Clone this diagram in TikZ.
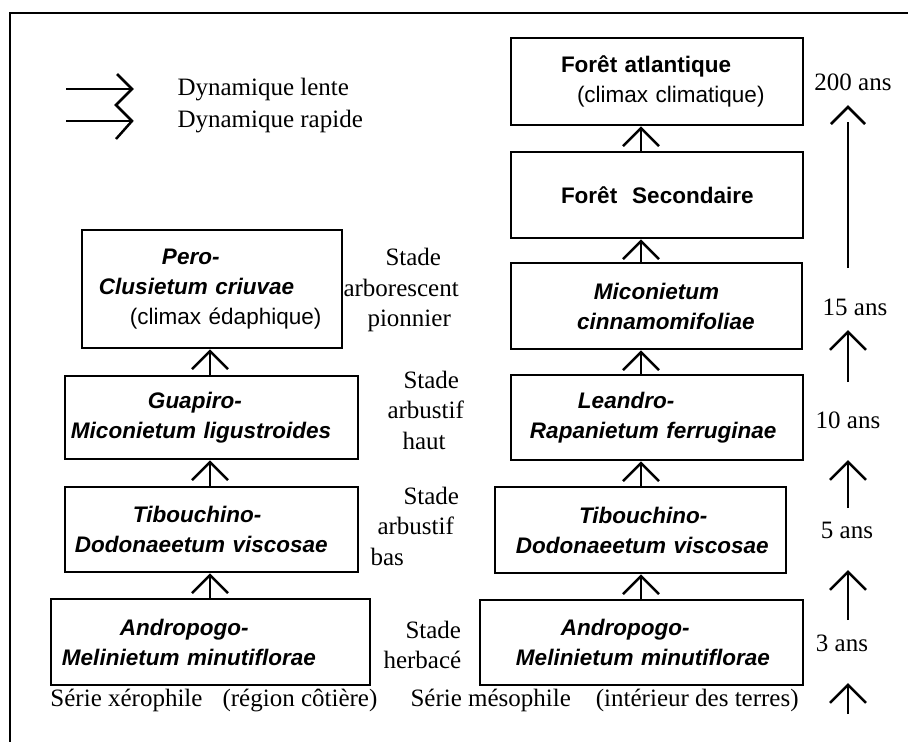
\documentclass[tikz,border=0pt]{standalone}
\usepackage{fontspec}
\setmainfont{Liberation Serif}
\setsansfont{Liberation Sans}
\usetikzlibrary{calc,arrows.meta}
\newlength\pxu
\setlength\pxu{0.4pt}
\newcommand{\indt}[1]{\hspace*{#1\pxu}}
\tikzset{
  cbox/.style={draw,line width=1pt,inner sep=0pt,align=left,font=\fontsize{9}{12}\selectfont\sffamily\bfseries\itshape},
  stlab/.style={anchor=west,align=left,inner sep=0pt,font=\fontsize{10}{12.2}\selectfont},
  ylab/.style={inner sep=0pt,font=\fontsize{10}{12.2}\selectfont},
  ar/.style={-{Straight Barb[length=7.2pt,width=14.4pt]},line width=1pt},
  plain/.style={line width=1pt}
}
\begin{document}
\begin{tikzpicture}[x=0.4pt,y=-0.4pt]
\useasboundingbox (0,0) rectangle (908,742);
% frame
\draw[line width=0.6pt] (908,13) -- (10,13) -- (10,742);
% legend
\foreach \y in {89,121}{\draw[plain] (66,\y) -- (132,\y);}
\draw[plain] (117,74) -- (132,89) -- (116,105) -- (132,121) -- (116,139);
\node[stlab,font=\fontsize{10}{12.8}\selectfont] (lgt) at (177,106) {Dynamique lente\\Dynamique rapide};
% serie xerophile
\node[cbox,text width=104pt,minimum height=47.2pt] (pero) at (212,289)
  {\indt{80}Pero-\\\indt{17}Clusietum criuvae\\\indt{48}{\mdseries\upshape(climax édaphique)}};
\node[cbox,text width=117.2pt,minimum height=33.2pt] (guap) at (211.5,417.5)
  {\indt{83}Guapiro-\\\indt{6}Miconietum ligustroides};
\node[cbox,text width=117.2pt,minimum height=34pt] (tibl) at (211.5,529.5)
  {\indt{68}Tibouchino-\\\indt{10}Dodonaeetum viscosae};
\node[cbox,text width=127.6pt,minimum height=34.4pt] (andl) at (210.5,642)
  {\indt{69}Andropogo-\\\indt{11}Melinietum minutiflorae};
% serie mesophile
\node[cbox,text width=116.8pt,minimum height=34.8pt] (fora) at (657,81.5)
  {\indt{50}{\upshape Forêt atlantique}\\\indt{66}{\mdseries\upshape(climax climatique)}};
\node[cbox,text width=116.8pt,minimum height=34.4pt] (fors) at (657,195)
  {\indt{50}{\upshape Forêt\ \ Secondaire}};
\node[cbox,text width=116.4pt,minimum height=34.4pt] (mico) at (656.5,306)
  {\indt{83}Miconietum\\\indt{66}cinnamomifoliae};
\node[cbox,text width=116.8pt,minimum height=34pt] (lean) at (657,417.5)
  {\indt{67}Leandro-\\\indt{19}Rapanietum ferruginae};
\node[cbox,text width=116.4pt,minimum height=34.4pt] (tibr) at (640.5,530)
  {\indt{84}Tibouchino-\\\indt{21}Dodonaeetum viscosae};
\node[cbox,text width=129.2pt,minimum height=34pt] (andr) at (641.5,642.5)
  {\indt{81}Andropogo-\\\indt{36}Melinietum minutiflorae};
% connectors
\coordinate (lx) at (210,0);
\coordinate (rx) at (641,0);
\draw[ar] (lx |- guap.north) -- (lx |- pero.south);
\draw[ar] (lx |- tibl.north) -- (lx |- guap.south);
\draw[ar] (lx |- andl.north) -- (lx |- tibl.south);
\draw[ar] (rx |- fors.north) -- (rx |- fora.south);
\draw[ar] (rx |- mico.north) -- (rx |- fors.south);
\draw[ar] (rx |- lean.north) -- (rx |- mico.south);
\draw[ar] (rx |- tibr.north) -- (rx |- lean.south);
\draw[ar] (rx |- andr.north) -- (rx |- tibr.south);
% stades
\node[stlab] (sta) at (343,290) {\indt{42}Stade\\arborescent\\\indt{24}pionnier};
\node[stlab] (stb) at (387,410) {\indt{16}Stade\\arbustif\\\indt{15}haut};
\node[stlab] (stc) at (370,526) {\indt{33}Stade\\\indt{7}arbustif\\bas};
\node[stlab] (std) at (383,645) {\indt{22}Stade\\herbacé};
% series
\node[stlab] (serx) at (50,700) {Série xérophile\hspace{0.8em}(région côtière)};
\node[stlab] (serm) at (410,700) {Série mésophile\hspace{1em}(intérieur des terres)};
% durees
\node[ylab] (y200) at (853,82) {200 ans};
\node[ylab] (y15) at (855,307) {15 ans};
\node[ylab] (y10) at (848,420) {10 ans};
\node[ylab] (y5) at (847,530) {5 ans};
\node[ylab] (y3) at (842,643) {3 ans};
\coordinate (a200b) at (848,268);
\coordinate (a200s) at (848,122);
\coordinate (a200t) at (848,107);
\draw[plain] (a200b) -- (a200s);
\draw[plain] ($(a200t)+(-17,17)$) -- (a200t) -- ($(a200t)+(17,17)$);
\coordinate (a15b) at (848,382);
\coordinate (a15t) at (848,330);
\coordinate (a10b) at (848,508);
\coordinate (a10t) at (848,460);
\coordinate (a5b) at (848,620);
\coordinate (a5t) at (848,570);
\coordinate (a3b) at (848,714);
\coordinate (a3t) at (848,683);
\foreach \n in {a15,a10,a5,a3}{\draw[ar] (\n b) -- (\n t);}
\end{tikzpicture}
\end{document}
